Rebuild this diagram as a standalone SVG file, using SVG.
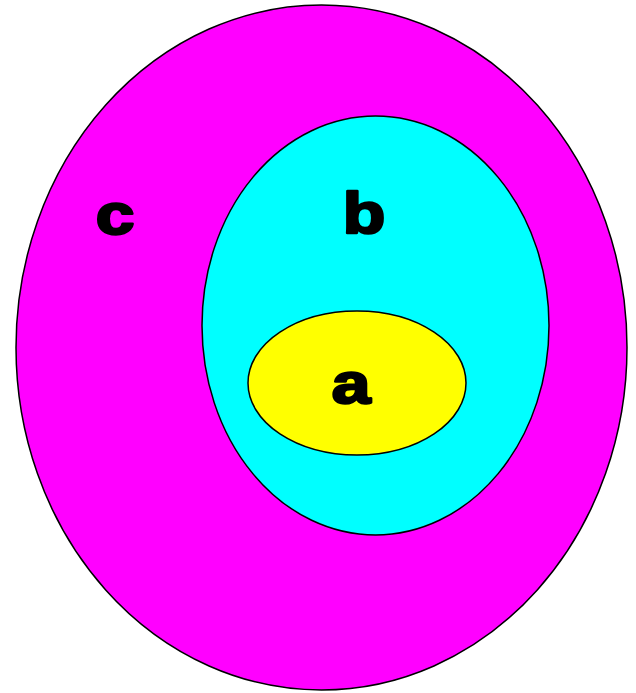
<svg xmlns="http://www.w3.org/2000/svg" width="636" height="693" viewBox="0 0 636 693">
<style>
.s{stroke:#000;stroke-width:1.5}
.t{font-family:"Liberation Sans",Arial,sans-serif;font-weight:bold;font-size:58px;fill:#000;stroke:#000;stroke-width:2.5;stroke-linejoin:round;text-anchor:middle}
</style>
<rect width="636" height="693" fill="#fff"/>
<g id="c"><ellipse class="s" cx="321.5" cy="347.5" rx="305.5" ry="342.5" fill="#ff00ff"/><text class="t" transform="translate(115 234) scale(1.2 1)">c</text></g>
<g id="b"><ellipse class="s" cx="375.5" cy="325.5" rx="173.5" ry="209.5" fill="#00ffff"/><text class="t" transform="translate(364 233) scale(1.2 1)">b</text></g>
<g id="a"><ellipse class="s" cx="357" cy="383" rx="109" ry="72" fill="#ffff00"/><text class="t" transform="translate(351 403) scale(1.2 1)">a</text></g>
</svg>
